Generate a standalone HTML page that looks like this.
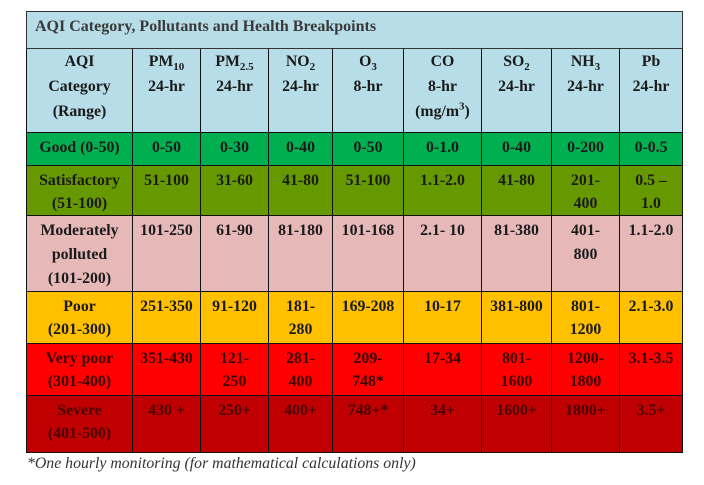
<!DOCTYPE html>
<html><head><meta charset="utf-8"><style>
html,body{margin:0;padding:0;background:#fff;width:704px;height:485px;overflow:hidden}
table{position:absolute;left:26px;top:11px;border-collapse:collapse;table-layout:fixed;width:656px;font-family:"Liberation Serif",serif;font-weight:bold;font-size:15.8px;color:#1a1a1a}
td{border:1px solid #111;text-align:center;vertical-align:top;padding:3px 1px 0;line-height:23px;box-sizing:border-box;overflow:hidden;white-space:nowrap}
.t td{background:#b7dde8;text-align:left;padding:2px 8px 0;font-size:16px;color:#3a3a3a;line-height:26px;border-color:#333}
.h td{background:#b7dde8;line-height:25px;padding-top:0}
.m td{line-height:24px}
sub,sup{font-size:11px;line-height:0}
.g td{background:#00b050}
.s td{background:#669900}
.m td{background:#e6b8b7}
.p td{background:#ffc000}
.v td{background:#ff0000;color:#3a0000}
.x td{background:#c00000;color:#4a0000}
.f{position:absolute;left:27px;top:455px;font-family:"Liberation Serif",serif;font-style:italic;font-size:15.8px;color:#333}
</style></head><body>
<table>
<colgroup><col style="width:106px"><col style="width:68px"><col style="width:68px"><col style="width:64px"><col style="width:71px"><col style="width:78px"><col style="width:70px"><col style="width:68px"><col style="width:63px"></colgroup>
<tr class="t" style="height:37px"><td colspan="9">AQI Category, Pollutants and Health Breakpoints</td></tr>
<tr class="h" style="height:84px"><td>AQI<br>Category<br>(Range)</td><td>PM<sub>10</sub><br>24-hr</td><td>PM<sub>2.5</sub><br>24-hr</td><td>NO<sub>2</sub><br>24-hr</td><td>O<sub>3</sub><br>8-hr</td><td>CO<br>8-hr<br>(mg/m<sup>3</sup>)</td><td>SO<sub>2</sub><br>24-hr</td><td>NH<sub>3</sub><br>24-hr</td><td>Pb<br>24-hr</td></tr>
<tr class="g" style="height:33px"><td>Good (0-50)</td><td>0-50</td><td>0-30</td><td>0-40</td><td>0-50</td><td>0-1.0</td><td>0-40</td><td>0-200</td><td>0-0.5</td></tr>
<tr class="s" style="height:49px"><td>Satisfactory<br>(51-100)</td><td>51-100</td><td>31-60</td><td>41-80</td><td>51-100</td><td>1.1-2.0</td><td>41-80</td><td>201-<br>400</td><td>0.5 –<br>1.0</td></tr>
<tr class="m" style="height:76px"><td>Moderately<br>polluted<br>(101-200)</td><td>101-250</td><td>61-90</td><td>81-180</td><td>101-168</td><td>2.1- 10</td><td>81-380</td><td>401-<br>800</td><td>1.1-2.0</td></tr>
<tr class="p" style="height:52px"><td>Poor<br>(201-300)</td><td>251-350</td><td>91-120</td><td>181-<br>280</td><td>169-208</td><td>10-17</td><td>381-800</td><td>801-<br>1200</td><td>2.1-3.0</td></tr>
<tr class="v" style="height:52px"><td>Very poor<br>(301-400)</td><td>351-430</td><td>121-<br>250</td><td>281-<br>400</td><td>209-<br>748*</td><td>17-34</td><td>801-<br>1600</td><td>1200-<br>1800</td><td>3.1-3.5</td></tr>
<tr class="x" style="height:57px"><td>Severe<br>(401-500)</td><td>430 +</td><td>250+</td><td>400+</td><td>748+*</td><td>34+</td><td>1600+</td><td>1800+</td><td>3.5+</td></tr>
</table>
<div class="f">*One hourly monitoring (for mathematical calculations only)</div>
</body></html>
